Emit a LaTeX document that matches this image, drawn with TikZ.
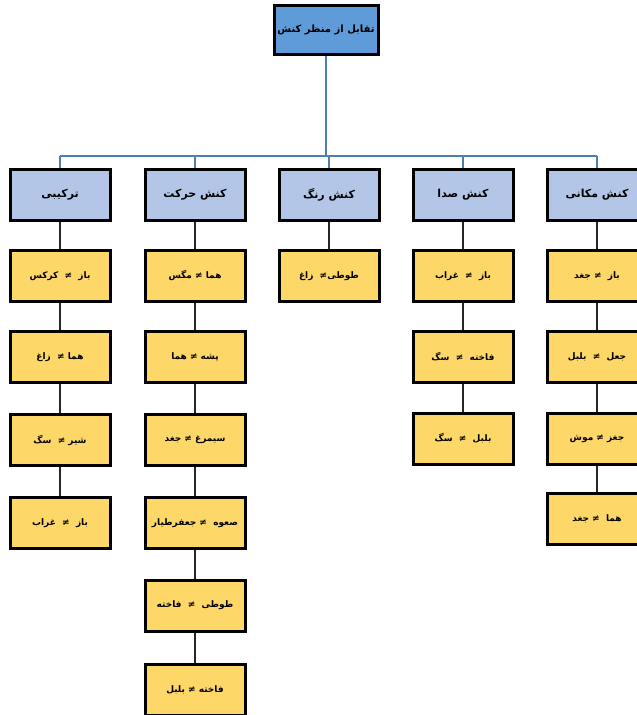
\documentclass[tikz,border=0pt]{standalone}
\usepackage{fontspec}
\newfontfamily\fa[Script=Arabic]{DejaVu Sans}
\TeXXeTstate=1
\definecolor{rootfill}{HTML}{5E9BD8}
\definecolor{headfill}{HTML}{B4C6E7}
\definecolor{leaffill}{HTML}{FDD868}
\definecolor{busblue}{HTML}{4A7FB0}
\tikzset{
  box/.style={draw=black, line width=3pt, minimum width=100pt, minimum height=51pt, inner sep=1pt, align=center},
  rootbox/.style={box, fill=rootfill, minimum width=104pt, minimum height=49pt, font=\fa\bfseries\fontsize{10}{12}\selectfont},
  headbox/.style={box, fill=headfill, font=\fa\bfseries\fontsize{11}{13}\selectfont},
  leafbox/.style={box, fill=leaffill, font=\fa\bfseries\fontsize{9}{11}\selectfont},
  busline/.style={draw=busblue, line width=2pt},
  link/.style={draw=black!85, line width=2pt}
}
\newcommand{\rtl}[1]{\beginR #1\endR}
\begin{document}
\begin{tikzpicture}[x=1pt,y=-1pt]
\useasboundingbox (0,0) rectangle (637,715);
\clip (0,0) rectangle (637,715);
\coordinate (bus) at (0,156);
% root
\node[rootbox] (root) at (326,30) {\rtl{تقابل از منظر کنش}};
% headers
\node[headbox] (h1) at (60,195) {\rtl{ترکیبی}};
\node[headbox] (h2) at (195,195) {\rtl{کنش حرکت}};
\node[headbox] (h3) at (329,195) {\rtl{کنش رنگ}};
\node[headbox] (h4) at (463,195) {\rtl{کنش صدا}};
\node[headbox] (h5) at (597,195) {\rtl{کنش مکانی}};
% bus
\draw[busline] (root.south) -- (root.south |- bus);
\draw[busline] (h1.north |- bus) -- (h5.north |- bus);
\foreach \h in {h1,h2,h3,h4,h5} {\draw[busline] (\h.north |- bus) -- (\h.north);}
% column 1
\node[leafbox] (a1) at (60,276) {\rtl{باز \ ≠ \ کرکس}};
\node[leafbox] (a2) at (60,357) {\rtl{هما ≠ \ زاغ}};
\node[leafbox] (a3) at (60,440) {\rtl{شیر ≠ \ سگ}};
\node[leafbox] (a4) at (60,523) {\rtl{باز \ ≠ \ غراب}};
% column 2
\node[leafbox] (b1) at (195,276) {\rtl{هما ≠ مگس}};
\node[leafbox] (b2) at (195,357) {\rtl{پشه ≠ هما}};
\node[leafbox] (b3) at (195,440) {\rtl{سیمرغ ≠ جغد}};
\node[leafbox] (b4) at (195,523) {\rtl{صعوه \ ≠ جعفرطیار}};
\node[leafbox] (b5) at (195,605.5) {\rtl{طوطی \ ≠ \ فاخته}};
\node[leafbox] (b6) at (195,690) {\rtl{فاخته ≠ بلبل}};
% column 3
\node[leafbox] (c1) at (329,276) {\rtl{طوطی≠ \ زاغ}};
% column 4
\node[leafbox] (d1) at (463,276) {\rtl{باز \ ≠ \ غراب}};
\node[leafbox] (d2) at (463,357) {\rtl{فاخته \ ≠ \ سگ}};
\node[leafbox] (d3) at (463,438.5) {\rtl{بلبل \ ≠ \ سگ}};
% column 5
\node[leafbox] (e1) at (597,276) {\rtl{باز \ ≠ جغد}};
\node[leafbox] (e2) at (597,357) {\rtl{جعل \ ≠ \ بلبل}};
\node[leafbox] (e3) at (597,438.5) {\rtl{جغز ≠ موش}};
\node[leafbox] (e4) at (597,519) {\rtl{هما \ ≠ جغد}};
% links
\draw[link] (h1) -- (a1);
\draw[link] (a1) -- (a2);
\draw[link] (a2) -- (a3);
\draw[link] (a3) -- (a4);
\draw[link] (h2) -- (b1);
\draw[link] (b1) -- (b2);
\draw[link] (b2) -- (b3);
\draw[link] (b3) -- (b4);
\draw[link] (b4) -- (b5);
\draw[link] (b5) -- (b6);
\draw[link] (h3) -- (c1);
\draw[link] (h4) -- (d1);
\draw[link] (d1) -- (d2);
\draw[link] (d2) -- (d3);
\draw[link] (h5) -- (e1);
\draw[link] (e1) -- (e2);
\draw[link] (e2) -- (e3);
\draw[link] (e3) -- (e4);
\end{tikzpicture}
\end{document}
